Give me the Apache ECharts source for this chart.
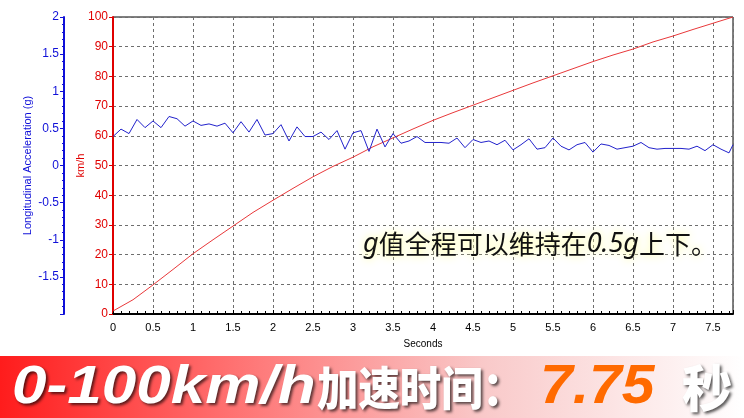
<!DOCTYPE html>
<html><head><meta charset="utf-8">
<script src="https://cdn.jsdelivr.net/npm/echarts@6/dist/echarts.min.js"></script>
<style>html,body{margin:0;padding:0;background:#fff}#c{width:744px;height:418px}</style>
</head><body><div id="c"></div>
<script>
// Acceleration samples (seconds, g)
const accelTimes = [0,0.1,0.2,0.3,0.4,0.5,0.6,0.7,0.8,0.9,
  1,1.1,1.2,1.3,1.4,1.5,1.6,1.7,1.8,1.9,
  2,2.1,2.2,2.3,2.4,2.5,2.6,2.7,2.8,2.9,
  3,3.1,3.2,3.3,3.4,3.5,3.6,3.7,3.8,3.9,
  4,4.1,4.2,4.3,4.4,4.5,4.6,4.7,4.8,4.9,
  5,5.1,5.2,5.3,5.4,5.5,5.6,5.7,5.8,5.9,
  6,6.1,6.2,6.3,6.4,6.5,6.6,6.7,6.8,6.9,
  7,7.1,7.2,7.3,7.4,7.5,7.6,7.7,7.75];
const accelValues = [0.39,0.49,0.43,0.62,0.51,0.60,0.51,0.66,0.63,0.53,
  0.60,0.54,0.56,0.53,0.57,0.44,0.59,0.45,0.62,0.41,
  0.43,0.55,0.33,0.52,0.39,0.39,0.45,0.35,0.47,0.22,
  0.44,0.47,0.19,0.49,0.25,0.43,0.30,0.33,0.39,0.31,
  0.31,0.31,0.30,0.37,0.24,0.35,0.31,0.33,0.28,0.34,
  0.21,0.28,0.36,0.22,0.24,0.37,0.26,0.21,0.28,0.31,
  0.18,0.29,0.27,0.22,0.24,0.26,0.31,0.24,0.22,0.23,
  0.23,0.23,0.22,0.26,0.20,0.28,0.22,0.17,0.28];
// Speed samples (seconds, km/h)
const speedTimes = [0,0.25,0.5,0.75,1,1.25,1.5,1.75,2,2.25,2.5,2.75,3,3.25,3.5,3.75,
  4,4.25,4.5,4.75,5,5.25,5.5,5.75,6,6.25,6.5,6.75,7,7.25,7.5,7.75];
const speedValues = [1.0,4.8,9.8,15.0,20.3,25.0,29.6,34.2,38.3,42.3,46.2,49.7,52.8,56.3,59.3,62.3,
  65.2,67.8,70.3,72.8,75.3,77.8,80.2,82.6,85.0,87.2,89.2,91.6,93.6,95.8,97.9,100.0];

const xRange = [0, 7.75], xStep = 0.5;
const speedRange = [0, 100], speedStep = 10;
const accelRange = [-2, 2], accelStep = 0.5;

const xName = 'Seconds';
const speedName = 'km/h';
const accelName = 'Longitudinal Acceleration (g)';
const noteParts = ['g', '值全程可以维持在', '0.5g', '上下。'];
const bannerLead = '0-100km/h';
const bannerCjk = '加速时间：';
const bannerValue = '7.75';
const bannerUnit = '秒';

const RED = '#e00000', BLUE = '#1010d8';
const FONT = 'Liberation Sans, Arial, sans-serif';
const dash = {color: '#6e6e6e', width: 1, type: [3, 3]};
const shadow = {textShadowColor: 'rgba(0,0,0,0.65)', textShadowBlur: 3, textShadowOffsetX: 2, textShadowOffsetY: 2};

const chart = echarts.init(document.getElementById('c'), null, {renderer: 'canvas'});
chart.setOption({
  animation: false,
  backgroundColor: '#fff',
  grid: {left: 113, right: 11, top: 17, bottom: 104, show: true, borderColor: '#000', borderWidth: 1, containLabel: false},
  xAxis: {
    type: 'value', min: xRange[0], max: xRange[1], interval: xStep,
    name: xName, nameLocation: 'middle', nameGap: 25, nameMoveOverlap: false,
    nameTextStyle: {fontFamily: FONT, fontSize: 10, color: '#000'},
    axisLine: {lineStyle: {color: '#000', width: 2}},
    axisTick: {show: true, inside: true, length: 4, lineStyle: {color: '#000'}},
    minorTick: {show: true, splitNumber: 5, length: 3, lineStyle: {color: '#000'}},
    axisLabel: {fontFamily: FONT, fontSize: 11, color: '#000', margin: 8, showMaxLabel: false},
    splitLine: {show: true, lineStyle: dash}
  },
  yAxis: [{
    type: 'value', position: 'left', min: speedRange[0], max: speedRange[1], interval: speedStep,
    name: speedName, nameLocation: 'middle', nameGap: 27, nameMoveOverlap: false,
    nameTextStyle: {fontFamily: FONT, fontSize: 11, color: RED},
    axisLine: {show: true, lineStyle: {color: RED, width: 2}},
    axisTick: {show: true, length: 4, lineStyle: {color: RED}},
    axisLabel: {fontFamily: FONT, fontSize: 12, color: RED, margin: 5},
    splitLine: {show: true, lineStyle: dash}
  }, {
    type: 'value', position: 'left', offset: 49, min: accelRange[0], max: accelRange[1], interval: accelStep,
    name: accelName, nameLocation: 'middle', nameGap: 31, nameMoveOverlap: false,
    nameTextStyle: {fontFamily: FONT, fontSize: 11, color: BLUE},
    axisLine: {show: true, lineStyle: {color: BLUE, width: 2}},
    axisTick: {show: true, length: 4, lineStyle: {color: BLUE}},
    minorTick: {show: true, splitNumber: 5, length: 2, lineStyle: {color: BLUE}},
    axisLabel: {fontFamily: FONT, fontSize: 12, color: BLUE, margin: 5, showMinLabel: false},
    splitLine: {show: false}
  }],
  series: [{
    type: 'line', yAxisIndex: 0, symbol: 'none',
    data: speedTimes.map((t, i) => [t, speedValues[i]]),
    lineStyle: {color: '#e8383a', width: 1}, z: 3
  }, {
    type: 'line', yAxisIndex: 1, symbol: 'none',
    data: accelTimes.map((t, i) => [t, accelValues[i]]),
    lineStyle: {color: '#2222cc', width: 1}, z: 4
  }],
  graphic: [
    {type: 'text', x: 363, y: 244, z: 10,
      style: {text: '{i|' + noteParts[0] + '}{c|' + noteParts[1] + '}{i|' + noteParts[2] + '}{c|' + noteParts[3] + '}',
        x: 0, y: 0, verticalAlign: 'middle', fill: '#111',
        textShadowColor: '#ffff90', textShadowBlur: 8,
        rich: {
          i: {font: 'italic 27px "Noto Sans", "Liberation Sans", sans-serif', fill: '#111', textShadowColor: '#ffff90', textShadowBlur: 8},
          c: {font: '26px "Noto Sans CJK SC", sans-serif', fill: '#111', textShadowColor: '#ffff90', textShadowBlur: 8}
        }}},
    {type: 'rect', shape: {x: 0, y: 356, width: 744, height: 62}, z: 10,
      style: {fill: new echarts.graphic.LinearGradient(0, 0, 1, 0, [
        {offset: 0, color: '#ff1c1c'}, {offset: 0.3, color: '#ff6e6e'},
        {offset: 0.65, color: '#f9c9c9'}, {offset: 1, color: '#ffffff'}])}},
    {type: 'text', x: 12, y: 388, scaleX: 1.15, z: 11,
      style: Object.assign({text: bannerLead, x: 0, y: 0, font: 'italic bold 54px "Liberation Sans", Arial', fill: '#fff',
        verticalAlign: 'middle'}, shadow)},
    {type: 'text', x: 317, y: 388, scaleX: 0.9, z: 11,
      style: Object.assign({text: bannerCjk, x: 0, y: 0, font: '900 46px "Noto Sans CJK SC"', fill: '#fff',
        verticalAlign: 'middle'}, shadow)},
    {type: 'text', x: 540, y: 388, scaleX: 1.05, z: 11,
      style: {text: bannerValue, x: 0, y: 0, font: 'italic bold 56px "Liberation Sans", Arial', fill: '#ff6a00',
        verticalAlign: 'middle'}},
    {type: 'text', x: 682, y: 388, z: 11,
      style: Object.assign({text: bannerUnit, x: 0, y: 0, font: '900 50px "Noto Sans CJK SC"', fill: '#fff',
        verticalAlign: 'middle'}, shadow)}
  ]
});
</script></body></html>
